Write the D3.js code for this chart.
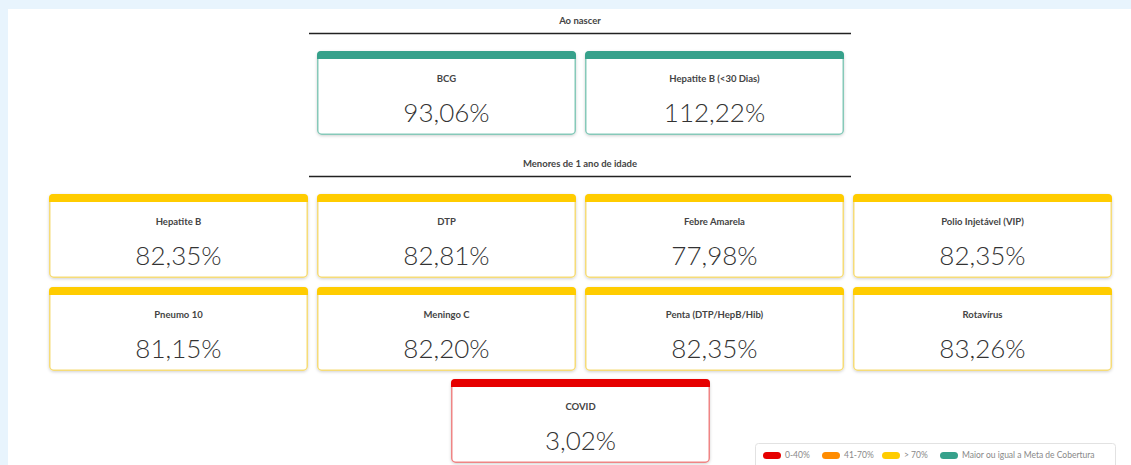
<!DOCTYPE html>
<html>
<head>
<meta charset="utf-8">
<script src="https://cdn.jsdelivr.net/npm/d3@7"></script>
<style>
	body { margin: 0; background: #e8f4fd; font-family: Lato, "Open Sans", sans-serif; }
	svg { display: block; }
</style>
</head>
<body>
<svg id="chart" width="1131" height="465"></svg>
<script>
// Section titles and the vaccines in each row
const sections = ["Ao nascer", "Menores de 1 ano de idade"];
const rowNascer = ["BCG", "Hepatite B (<30 Dias)"];
const rowMenores1 = ["Hepatite B", "DTP", "Febre Amarela", "Polio Injetável (VIP)"];
const rowMenores2 = ["Pneumo 10", "Meningo C", "Penta (DTP/HepB/Hib)", "Rotavírus"];
const rowCovid = ["COVID"];

// Coverage values (%)
const valuesNascer = [93.06, 112.22];
const valuesMenores1 = [82.35, 82.81, 77.98, 82.35];
const valuesMenores2 = [81.15, 82.20, 82.35, 83.26];
const valuesCovid = [3.02];

// Legend
const legendLabels = ["0-40%", "41-70%", "> 70%", "Maior ou igual a Meta de Cobertura"];
const thresholds = [40, 70, 90];

document.addEventListener("DOMContentLoaded", function() {
	const svg = d3.select("#chart");

	const colors = ["#e60000", "#ff8c00", "#ffcc00", "#36a18b"];
	const borders = ["#ef8585", "#ffc27a", "#f6dc78", "#86c9b9"];
	const colorScale = d3.scaleThreshold().domain(thresholds).range(colors);
	const borderScale = d3.scaleThreshold().domain(thresholds).range(borders);

	// White panel
	svg.append("rect").attr("x", 8).attr("y", 9).attr("width", 1123).attr("height", 456).attr("fill", "#fff");

	const defs = svg.append("defs");
	const f = defs.append("filter").attr("id", "shadow").attr("x", "-5%").attr("y", "-10%").attr("width", "110%").attr("height", "130%");
	f.append("feDropShadow").attr("dx", 0).attr("dy", 1).attr("stdDeviation", 1.5)
	 .attr("flood-color", "#000").attr("flood-opacity", 0.18);

	// Four column grid
	const xScale = d3.scaleBand().domain(d3.range(4)).range([49, 1112]).paddingInner(0.0336);
	const step = xScale.step();
	const cardW = xScale.bandwidth();
	const cardH = 84;

	const rows = [
		{ names: rowNascer, values: valuesNascer, top: 51 },
		{ names: rowMenores1, values: valuesMenores1, top: 194 },
		{ names: rowMenores2, values: valuesMenores2, top: 287 },
		{ names: rowCovid, values: valuesCovid, top: 379 }
	];

	const cards = [];
	rows.forEach(r => {
		const start = (4 - r.names.length) / 2;	// centre short rows
		r.names.forEach((n, i) => cards.push({ name: n, value: r.values[i], col: start + i, top: r.top }));
	});
	const colX = c => xScale(0) + c * step;

	// Section headers
	const headerY = [21, 164];
	sections.forEach((s, i) => {
		svg.append("text").attr("x", 580).attr("y", headerY[i]).attr("dy", "0.35em")
		   .attr("text-anchor", "middle").attr("font-size", 9.5).attr("font-weight", 700)
		   .attr("fill", "#444").text(s);
		svg.append("line").attr("x1", 309).attr("x2", 851).attr("y1", headerY[i] + 12.5).attr("y2", headerY[i] + 12.5)
		   .attr("stroke", "#222").attr("stroke-width", 1.6);
	});

	const fmt = v => d3.format(".2f")(v).replace(".", ",") + "%";

	const g = svg.selectAll("g.card").data(cards).enter().append("g")
		.attr("class", "card")
		.attr("transform", d => `translate(${colX(d.col)},${d.top})`);

	g.append("rect").attr("x", 0.75).attr("y", 0.75).attr("width", cardW - 1.5).attr("height", cardH - 1.5)
	 .attr("rx", 4).attr("fill", "#fff").attr("filter", "url(#shadow)")
	 .attr("stroke", d => borderScale(d.value)).attr("stroke-width", 1.5);

	// top colour strip with rounded top corners
	g.append("path")
	 .attr("d", `M0,8 V4 Q0,0 4,0 H${cardW - 4} Q${cardW},0 ${cardW},4 V8 Z`)
	 .attr("fill", d => colorScale(d.value));

	g.append("text").attr("x", cardW / 2).attr("y", 28).attr("dy", "0.35em")
	 .attr("text-anchor", "middle").attr("font-size", 9.5).attr("font-weight", 700)
	 .attr("fill", "#444").text(d => d.name);

	g.append("text").attr("x", cardW / 2).attr("y", 62).attr("dy", "0.35em")
	 .attr("text-anchor", "middle").attr("font-size", 26).attr("font-weight", 300)
	 .attr("fill", "#333").text(d => fmt(d.value));

	// Legend
	const lg = svg.append("g").attr("transform", "translate(755,443)");
	lg.append("rect").attr("x", 0.5).attr("y", 0.5).attr("width", 360).attr("height", 30).attr("rx", 3)
	  .attr("fill", "#fff").attr("stroke", "#e2e2e2");
	const legendX = d3.scaleOrdinal().domain(legendLabels).range([8, 67, 127, 185]);
	const item = lg.selectAll("g.item").data(legendLabels).enter().append("g")
		.attr("class", "item").attr("transform", d => `translate(${legendX(d)},9)`);
	item.append("rect").attr("width", 18).attr("height", 7).attr("rx", 3.5)
	    .attr("fill", (d, i) => colors[i]);
	item.append("text").attr("x", 22).attr("y", 3.5).attr("dy", "0.35em")
	    .attr("font-size", 8.5).attr("fill", "#888").text(d => d);
});
</script>
</body>
</html>
